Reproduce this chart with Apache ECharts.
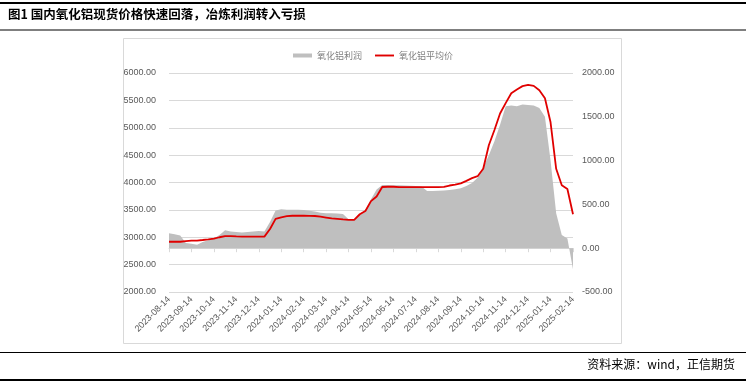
<!DOCTYPE html>
<html>
<head>
<meta charset="utf-8">
<script src="https://cdn.jsdelivr.net/npm/echarts@6/dist/echarts.min.js"></script>
<style>
html,body{margin:0;padding:0;background:#fff;}
#c{width:746px;height:384px;}
</style>
</head>
<body>
<div id="c"></div>
<script>
// Monthly tick labels (x axis)
var tickLabels = ['2023-08-14','2023-09-14','2023-10-14','2023-11-14','2023-12-14','2024-01-14','2024-02-14','2024-03-14','2024-04-14','2024-05-14','2024-06-14','2024-07-14','2024-08-14','2024-09-14','2024-10-14','2024-11-14','2024-12-14','2025-01-14','2025-02-14'];
// Intermediate day-of-month steps between ticks
var subDays = ['14','21','28'];

// 氧化铝平均价 (left axis, 元/吨)
var priceValues = [2918,2918,2918,2930,2937,2940,2950,2962,2975,3000,3020,3020,3015,3012,3010,3010,3010,3012,3150,3335,3365,3385,3393,3393,3393,3392,3388,3375,3360,3345,3335,3325,3318,3318,3420,3480,3660,3745,3918,3922,3922,3915,3915,3915,3915,3915,3915,3915,3915,3920,3945,3960,3985,4030,4080,4115,4250,4680,4960,5260,5450,5630,5700,5760,5785,5765,5685,5540,5100,4250,3950,3880,3420];
// 氧化铝利润 (right axis, 元/吨)
var profitValues = [170,160,145,60,50,40,70,90,110,150,205,190,185,180,185,190,195,190,300,430,445,440,440,440,435,428,418,405,400,398,395,390,330,330,380,436,560,670,721,721,718,718,715,712,710,705,652,652,655,660,665,672,684,710,745,805,920,1060,1220,1410,1620,1630,1620,1640,1635,1630,1600,1500,1000,400,150,110,-240];

var categories = [];
for (var t = 0; t < tickLabels.length; t++) {
  var ym = tickLabels[t].slice(0, 7);
  if (t === tickLabels.length - 1) { categories.push(tickLabels[t]); break; }
  for (var s = 0; s < subDays.length; s++) categories.push(ym + '-' + subDays[s]);
  var nextYm = tickLabels[t + 1].slice(0, 7);
  categories.push(nextYm + '-07');
}

var axisFont = "'Liberation Sans Narrow','Liberation Sans',sans-serif";
var cjk = "'Noto Sans CJK SC','Noto Sans',sans-serif";

var chart = echarts.init(document.getElementById('c'), null, {renderer: 'canvas'});
chart.setOption({
  backgroundColor: '#fff',
  animation: false,
  graphic: [
    {type: 'rect', shape: {x: 0, y: 2, width: 746, height: 2}, style: {fill: '#000'}},
    {type: 'text', left: 8, top: 8, style: {text: '图1 国内氧化铝现货价格快速回落，冶炼利润转入亏损', font: "bold 12.5px " + cjk, fill: '#000'}},
    {type: 'rect', shape: {x: 0, y: 29.5, width: 746, height: 1}, style: {fill: '#000'}},
    {type: 'rect', shape: {x: 123.5, y: 38.5, width: 498, height: 305}, style: {fill: 'none', stroke: '#d9d9d9', lineWidth: 1}},
    {type: 'rect', shape: {x: 0, y: 352, width: 746, height: 1}, style: {fill: '#000'}},
    {type: 'text', right: 11, top: 358, style: {text: '资料来源：wind，正信期货', font: "12px " + cjk, fill: '#000'}},
    {type: 'rect', shape: {x: 0, y: 379, width: 746, height: 2}, style: {fill: '#000'}}
  ],
  legend: {
    top: 46,
    left: 'center',
    itemGap: 13,
    itemWidth: 19,
    itemHeight: 4,
    textStyle: {fontFamily: cjk, fontSize: 9, color: '#7f7f7f'},
    data: [
      {name: '氧化铝利润', icon: 'rect'},
      {name: '氧化铝平均价', icon: 'path://M0,0L20,0L20,2L0,2Z'}
    ]
  },
  grid: {left: 169, right: 173, top: 73, bottom: 92, containLabel: false},
  xAxis: {
    type: 'category',
    data: categories,
    boundaryGap: false,
    axisLine: {show: true, lineStyle: {color: '#d9d9d9'}},
    axisTick: {show: true, interval: 3, length: 4, lineStyle: {color: '#d9d9d9'}},
    axisLabel: {interval: 3, rotate: 45, margin: 6, fontFamily: axisFont, fontSize: 9, color: '#595959'},
    splitLine: {show: false}
  },
  yAxis: [
    {
      type: 'value', min: 2000, max: 6000, interval: 500,
      axisLine: {show: false}, axisTick: {show: false},
      axisLabel: {margin: 13, fontFamily: axisFont, fontSize: 9, color: '#595959', formatter: function (v) { return v.toFixed(2); }},
      splitLine: {show: true, lineStyle: {color: '#d9d9d9', width: 1}}
    },
    {
      type: 'value', min: -500, max: 2000, interval: 500,
      axisLine: {show: false}, axisTick: {show: false},
      axisLabel: {margin: 9, fontFamily: axisFont, fontSize: 9, color: '#595959', formatter: function (v) { return v.toFixed(2); }},
      splitLine: {show: false}
    }
  ],
  series: [
    {
      name: '氧化铝利润', type: 'line', yAxisIndex: 1, data: profitValues,
      symbol: 'none', showSymbol: false,
      itemStyle: {color: '#bfbfbf'},
      lineStyle: {width: 0, color: '#bfbfbf'},
      areaStyle: {color: '#bfbfbf', opacity: 1},
      z: 1
    },
    {
      name: '氧化铝平均价', type: 'line', yAxisIndex: 0, data: priceValues,
      symbol: 'none', showSymbol: false,
      itemStyle: {color: '#e00000'},
      lineStyle: {width: 1.8, color: '#e00000'},
      z: 3
    }
  ]
});
</script>
</body>
</html>
